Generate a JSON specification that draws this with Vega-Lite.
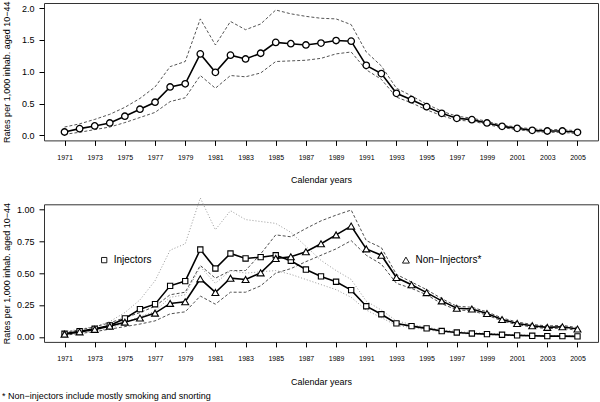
{
  "$schema": "https://vega.github.io/schema/vega-lite/v6.json",
  "autosize": "pad",
  "padding": {"left": 2, "top": 0, "right": 0, "bottom": 0},
  "background": "white",
  "spacing": 63.3,
  "bounds": "flush",
  "title": {"text": "* Non−injectors include mostly smoking and snorting", "orient": "bottom", "anchor": "start", "frame": "bounds", "fontSize": 9, "fontWeight": "normal", "font": "Liberation Sans", "color": "#000", "offset": 5.5},
  "datasets": {
    "top": [
      {"year": 1971, "rate": 0.052, "lo": 0.016, "hi": 0.13},
      {"year": 1972, "rate": 0.105, "lo": 0.047, "hi": 0.18},
      {"year": 1973, "rate": 0.147, "lo": 0.09, "hi": 0.25},
      {"year": 1974, "rate": 0.194, "lo": 0.13, "hi": 0.33},
      {"year": 1975, "rate": 0.30, "lo": 0.20, "hi": 0.44},
      {"year": 1976, "rate": 0.41, "lo": 0.28, "hi": 0.58},
      {"year": 1977, "rate": 0.52, "lo": 0.36, "hi": 0.76},
      {"year": 1978, "rate": 0.76, "lo": 0.53, "hi": 1.08},
      {"year": 1979, "rate": 0.81, "lo": 0.59, "hi": 1.16},
      {"year": 1980, "rate": 1.28, "lo": 0.94, "hi": 1.83},
      {"year": 1981, "rate": 0.99, "lo": 0.74, "hi": 1.42},
      {"year": 1982, "rate": 1.26, "lo": 0.94, "hi": 1.79},
      {"year": 1983, "rate": 1.20, "lo": 0.92, "hi": 1.66},
      {"year": 1984, "rate": 1.29, "lo": 0.98, "hi": 1.75},
      {"year": 1985, "rate": 1.46, "lo": 1.16, "hi": 1.97},
      {"year": 1986, "rate": 1.44, "lo": 1.17, "hi": 1.91},
      {"year": 1987, "rate": 1.42, "lo": 1.18, "hi": 1.87},
      {"year": 1988, "rate": 1.45, "lo": 1.21, "hi": 1.84},
      {"year": 1989, "rate": 1.49, "lo": 1.28, "hi": 1.83},
      {"year": 1990, "rate": 1.48, "lo": 1.31, "hi": 1.74},
      {"year": 1991, "rate": 1.10, "lo": 1.03, "hi": 1.31},
      {"year": 1992, "rate": 0.97, "lo": 0.88, "hi": 1.09},
      {"year": 1993, "rate": 0.66, "lo": 0.60, "hi": 0.74},
      {"year": 1994, "rate": 0.56, "lo": 0.51, "hi": 0.62},
      {"year": 1995, "rate": 0.45, "lo": 0.40, "hi": 0.49},
      {"year": 1996, "rate": 0.345, "lo": 0.31, "hi": 0.38},
      {"year": 1997, "rate": 0.267, "lo": 0.235, "hi": 0.30},
      {"year": 1998, "rate": 0.246, "lo": 0.225, "hi": 0.27},
      {"year": 1999, "rate": 0.194, "lo": 0.17, "hi": 0.22},
      {"year": 2000, "rate": 0.141, "lo": 0.12, "hi": 0.16},
      {"year": 2001, "rate": 0.11, "lo": 0.09, "hi": 0.13},
      {"year": 2002, "rate": 0.078, "lo": 0.06, "hi": 0.10},
      {"year": 2003, "rate": 0.068, "lo": 0.047, "hi": 0.09},
      {"year": 2004, "rate": 0.068, "lo": 0.047, "hi": 0.09},
      {"year": 2005, "rate": 0.047, "lo": 0.026, "hi": 0.07}
    ],
    "bottom": [
      {"group": "Injectors", "year": 1971, "rate": 0.024, "lo": 0.015, "hi": 0.04},
      {"group": "Injectors", "year": 1972, "rate": 0.044, "lo": 0.03, "hi": 0.06},
      {"group": "Injectors", "year": 1973, "rate": 0.063, "lo": 0.045, "hi": 0.08},
      {"group": "Injectors", "year": 1974, "rate": 0.089, "lo": 0.065, "hi": 0.12},
      {"group": "Injectors", "year": 1975, "rate": 0.144, "lo": 0.11, "hi": 0.19},
      {"group": "Injectors", "year": 1976, "rate": 0.217, "lo": 0.16, "hi": 0.29},
      {"group": "Injectors", "year": 1977, "rate": 0.256, "lo": 0.20, "hi": 0.44},
      {"group": "Injectors", "year": 1978, "rate": 0.40, "lo": 0.31, "hi": 0.68},
      {"group": "Injectors", "year": 1979, "rate": 0.437, "lo": 0.33, "hi": 0.73},
      {"group": "Injectors", "year": 1980, "rate": 0.685, "lo": 0.55, "hi": 1.09},
      {"group": "Injectors", "year": 1981, "rate": 0.536, "lo": 0.42, "hi": 0.84},
      {"group": "Injectors", "year": 1982, "rate": 0.654, "lo": 0.52, "hi": 0.99},
      {"group": "Injectors", "year": 1983, "rate": 0.615, "lo": 0.50, "hi": 0.92},
      {"group": "Injectors", "year": 1984, "rate": 0.625, "lo": 0.51, "hi": 0.905},
      {"group": "Injectors", "year": 1985, "rate": 0.64, "lo": 0.52, "hi": 0.89},
      {"group": "Injectors", "year": 1986, "rate": 0.597, "lo": 0.49, "hi": 0.82},
      {"group": "Injectors", "year": 1987, "rate": 0.528, "lo": 0.45, "hi": 0.71},
      {"group": "Injectors", "year": 1988, "rate": 0.474, "lo": 0.41, "hi": 0.60},
      {"group": "Injectors", "year": 1989, "rate": 0.432, "lo": 0.37, "hi": 0.52},
      {"group": "Injectors", "year": 1990, "rate": 0.366, "lo": 0.31, "hi": 0.45},
      {"group": "Injectors", "year": 1991, "rate": 0.24, "lo": 0.21, "hi": 0.28},
      {"group": "Injectors", "year": 1992, "rate": 0.177, "lo": 0.15, "hi": 0.21},
      {"group": "Injectors", "year": 1993, "rate": 0.105, "lo": 0.09, "hi": 0.125},
      {"group": "Injectors", "year": 1994, "rate": 0.084, "lo": 0.072, "hi": 0.097},
      {"group": "Injectors", "year": 1995, "rate": 0.066, "lo": 0.056, "hi": 0.076},
      {"group": "Injectors", "year": 1996, "rate": 0.045, "lo": 0.038, "hi": 0.054},
      {"group": "Injectors", "year": 1997, "rate": 0.034, "lo": 0.028, "hi": 0.042},
      {"group": "Injectors", "year": 1998, "rate": 0.026, "lo": 0.021, "hi": 0.033},
      {"group": "Injectors", "year": 1999, "rate": 0.021, "lo": 0.016, "hi": 0.027},
      {"group": "Injectors", "year": 2000, "rate": 0.016, "lo": 0.012, "hi": 0.021},
      {"group": "Injectors", "year": 2001, "rate": 0.011, "lo": 0.008, "hi": 0.015},
      {"group": "Injectors", "year": 2002, "rate": 0.008, "lo": 0.005, "hi": 0.012},
      {"group": "Injectors", "year": 2003, "rate": 0.005, "lo": 0.003, "hi": 0.008},
      {"group": "Injectors", "year": 2004, "rate": 0.005, "lo": 0.003, "hi": 0.008},
      {"group": "Injectors", "year": 2005, "rate": 0.003, "lo": 0.001, "hi": 0.006},
      {"group": "Non-Injectors", "year": 1971, "rate": 0.021, "lo": 0.012, "hi": 0.035},
      {"group": "Non-Injectors", "year": 1972, "rate": 0.039, "lo": 0.026, "hi": 0.055},
      {"group": "Non-Injectors", "year": 1973, "rate": 0.058, "lo": 0.04, "hi": 0.078},
      {"group": "Non-Injectors", "year": 1974, "rate": 0.084, "lo": 0.06, "hi": 0.11},
      {"group": "Non-Injectors", "year": 1975, "rate": 0.115, "lo": 0.08, "hi": 0.15},
      {"group": "Non-Injectors", "year": 1976, "rate": 0.147, "lo": 0.10, "hi": 0.19},
      {"group": "Non-Injectors", "year": 1977, "rate": 0.186, "lo": 0.125, "hi": 0.24},
      {"group": "Non-Injectors", "year": 1978, "rate": 0.262, "lo": 0.18, "hi": 0.33},
      {"group": "Non-Injectors", "year": 1979, "rate": 0.275, "lo": 0.196, "hi": 0.35},
      {"group": "Non-Injectors", "year": 1980, "rate": 0.455, "lo": 0.32, "hi": 0.56},
      {"group": "Non-Injectors", "year": 1981, "rate": 0.348, "lo": 0.256, "hi": 0.46},
      {"group": "Non-Injectors", "year": 1982, "rate": 0.46, "lo": 0.35, "hi": 0.52},
      {"group": "Non-Injectors", "year": 1983, "rate": 0.45, "lo": 0.35, "hi": 0.52},
      {"group": "Non-Injectors", "year": 1984, "rate": 0.502, "lo": 0.40, "hi": 0.65},
      {"group": "Non-Injectors", "year": 1985, "rate": 0.615, "lo": 0.50, "hi": 0.80},
      {"group": "Non-Injectors", "year": 1986, "rate": 0.628, "lo": 0.535, "hi": 0.785},
      {"group": "Non-Injectors", "year": 1987, "rate": 0.667, "lo": 0.59, "hi": 0.85},
      {"group": "Non-Injectors", "year": 1988, "rate": 0.73, "lo": 0.64, "hi": 0.91},
      {"group": "Non-Injectors", "year": 1989, "rate": 0.80, "lo": 0.69, "hi": 0.955},
      {"group": "Non-Injectors", "year": 1990, "rate": 0.869, "lo": 0.755, "hi": 0.995},
      {"group": "Non-Injectors", "year": 1991, "rate": 0.69, "lo": 0.64, "hi": 0.755},
      {"group": "Non-Injectors", "year": 1992, "rate": 0.64, "lo": 0.57, "hi": 0.70},
      {"group": "Non-Injectors", "year": 1993, "rate": 0.465, "lo": 0.42, "hi": 0.49},
      {"group": "Non-Injectors", "year": 1994, "rate": 0.408, "lo": 0.38, "hi": 0.43},
      {"group": "Non-Injectors", "year": 1995, "rate": 0.347, "lo": 0.33, "hi": 0.37},
      {"group": "Non-Injectors", "year": 1996, "rate": 0.282, "lo": 0.26, "hi": 0.30},
      {"group": "Non-Injectors", "year": 1997, "rate": 0.224, "lo": 0.21, "hi": 0.24},
      {"group": "Non-Injectors", "year": 1998, "rate": 0.218, "lo": 0.205, "hi": 0.232},
      {"group": "Non-Injectors", "year": 1999, "rate": 0.183, "lo": 0.17, "hi": 0.196},
      {"group": "Non-Injectors", "year": 2000, "rate": 0.136, "lo": 0.125, "hi": 0.148},
      {"group": "Non-Injectors", "year": 2001, "rate": 0.105, "lo": 0.095, "hi": 0.116},
      {"group": "Non-Injectors", "year": 2002, "rate": 0.087, "lo": 0.077, "hi": 0.097},
      {"group": "Non-Injectors", "year": 2003, "rate": 0.074, "lo": 0.064, "hi": 0.085},
      {"group": "Non-Injectors", "year": 2004, "rate": 0.079, "lo": 0.068, "hi": 0.09},
      {"group": "Non-Injectors", "year": 2005, "rate": 0.061, "lo": 0.05, "hi": 0.072}
    ],
    "legend": [
      {"group": "Injectors", "year": 1973.63, "rate": 0.602, "label": "Injectors"},
      {"group": "Non-Injectors", "year": 1993.63, "rate": 0.602, "label": "Non−Injectors*"}
    ]
  },
  "vconcat": [
    {
      "width": 554,
      "height": 137.4,
      "data": {"name": "top"},
      "encoding": {
        "x": {"field": "year", "type": "quantitative", "title": "Calendar years",
          "scale": {"domain": [1969.64, 2006.36], "nice": false, "zero": false},
          "axis": {"values": [1971,1973,1975,1977,1979,1981,1983,1985,1987,1989,1991,1993,1995,1997,1999,2001,2003,2005], "format": "d"}}
      },
      "layer": [
        {"mark": {"type": "line", "stroke": "#555", "strokeDash": [3, 2], "strokeWidth": 1},
         "encoding": {"y": {"field": "hi", "type": "quantitative", "title": "Rates per 1,000 inhab. aged 10−44",
           "scale": {"domain": [-0.08, 2.08], "nice": false, "zero": false},
           "axis": {"values": [0, 0.5, 1, 1.5, 2], "format": ".1f", "tickCount": 5}}}},
        {"mark": {"type": "line", "stroke": "#555", "strokeDash": [3, 2], "strokeWidth": 1},
         "encoding": {"y": {"field": "lo", "type": "quantitative", "title": "Rates per 1,000 inhab. aged 10−44",
           "axis": {"values": [0, 0.5, 1, 1.5, 2], "format": ".1f", "tickCount": 5}}}},
        {"mark": {"type": "line", "stroke": "#000", "strokeWidth": 1.6},
         "encoding": {"y": {"field": "rate", "type": "quantitative", "title": "Rates per 1,000 inhab. aged 10−44",
           "axis": {"values": [0, 0.5, 1, 1.5, 2], "format": ".1f", "tickCount": 5}}}},
        {"mark": {"type": "point", "shape": "circle", "filled": true, "fill": "white", "stroke": "#000", "strokeWidth": 1.3, "size": 42, "opacity": 1},
         "encoding": {"y": {"field": "rate", "type": "quantitative", "title": "Rates per 1,000 inhab. aged 10−44",
           "axis": {"values": [0, 0.5, 1, 1.5, 2], "format": ".1f", "tickCount": 5}}}}
      ]
    },
    {
      "width": 554,
      "height": 137.6,
      "encoding": {
        "x": {"field": "year", "type": "quantitative", "title": "Calendar years",
          "scale": {"domain": [1969.64, 2006.36], "nice": false, "zero": false},
          "axis": {"values": [1971,1973,1975,1977,1979,1981,1983,1985,1987,1989,1991,1993,1995,1997,1999,2001,2003,2005], "format": "d"}}
      },
      "layer": [
        {"data": {"name": "bottom"},
         "mark": {"type": "line", "strokeWidth": 1},
         "encoding": {
           "y": {"field": "hi", "type": "quantitative", "title": "Rates per 1,000 inhab. aged 10−44",
             "scale": {"domain": [-0.04, 1.04], "nice": false, "zero": false},
             "axis": {"values": [0, 0.25, 0.5, 0.75, 1], "format": ".2f", "tickCount": 5}},
           "color": {"field": "group", "type": "nominal", "legend": null, "scale": {"domain": ["Injectors", "Non-Injectors"], "range": ["#9a9a9a", "#505050"]}},
           "strokeDash": {"field": "group", "type": "nominal", "legend": null, "scale": {"domain": ["Injectors", "Non-Injectors"], "range": [[1, 2], [3, 2]]}}
         }},
        {"data": {"name": "bottom"},
         "mark": {"type": "line", "strokeWidth": 1},
         "encoding": {
           "y": {"field": "lo", "type": "quantitative", "title": "Rates per 1,000 inhab. aged 10−44",
             "axis": {"values": [0, 0.25, 0.5, 0.75, 1], "format": ".2f", "tickCount": 5}},
           "color": {"field": "group", "type": "nominal", "legend": null},
           "strokeDash": {"field": "group", "type": "nominal", "legend": null}
         }},
        {"data": {"name": "bottom"},
         "mark": {"type": "line", "stroke": "#000", "strokeWidth": 1.6},
         "encoding": {
           "y": {"field": "rate", "type": "quantitative", "title": "Rates per 1,000 inhab. aged 10−44",
             "axis": {"values": [0, 0.25, 0.5, 0.75, 1], "format": ".2f", "tickCount": 5}},
           "detail": {"field": "group", "type": "nominal"}
         }},
        {"data": {"name": "bottom"},
         "mark": {"type": "point", "filled": true, "fill": "white", "stroke": "#000", "strokeWidth": 1.1, "opacity": 1},
         "encoding": {
           "y": {"field": "rate", "type": "quantitative", "title": "Rates per 1,000 inhab. aged 10−44",
             "axis": {"values": [0, 0.25, 0.5, 0.75, 1], "format": ".2f", "tickCount": 5}},
           "shape": {"field": "group", "type": "nominal", "legend": null, "scale": {"domain": ["Injectors", "Non-Injectors"], "range": ["square", "triangle-up"]}},
           "size": {"field": "group", "type": "nominal", "legend": null, "scale": {"domain": ["Injectors", "Non-Injectors"], "range": [28, 48]}}
         }},
        {"data": {"name": "legend"},
         "mark": {"type": "point", "filled": true, "fill": "white", "stroke": "#000", "strokeWidth": 0.9, "opacity": 1},
         "encoding": {
           "y": {"field": "rate", "type": "quantitative", "title": "Rates per 1,000 inhab. aged 10−44",
             "axis": {"values": [0, 0.25, 0.5, 0.75, 1], "format": ".2f", "tickCount": 5}},
           "shape": {"field": "group", "type": "nominal", "legend": null},
           "size": {"field": "group", "type": "nominal", "legend": null}
         }},
        {"data": {"name": "legend"},
         "mark": {"type": "text", "align": "left", "baseline": "middle", "dx": 9.5, "fontSize": 10, "font": "Liberation Sans", "color": "#000"},
         "encoding": {
           "y": {"field": "rate", "type": "quantitative", "title": "Rates per 1,000 inhab. aged 10−44",
             "axis": {"values": [0, 0.25, 0.5, 0.75, 1], "format": ".2f", "tickCount": 5}},
           "text": {"field": "label", "type": "nominal"}
         }}
      ]
    }
  ],
  "config": {
    "view": {"stroke": "#333", "strokeWidth": 1},
    "axis": {"domain": false, "grid": false, "ticks": true, "tickColor": "#000", "tickSize": 5, "tickWidth": 1,
      "labelFont": "Liberation Sans", "titleFont": "Liberation Sans", "labelColor": "#000", "titleColor": "#000",
      "titleFontWeight": "normal", "titleFontSize": 9, "labelFlush": false, "labelOverlap": false},
    "axisX": {"labelFontSize": 7, "labelPadding": 8, "titleY": 39.5, "titleBaseline": "middle"},
    "axisY": {"labelFontSize": 9, "labelPadding": 5, "titleX": -37.5, "titleBaseline": "middle"}
  }
}
